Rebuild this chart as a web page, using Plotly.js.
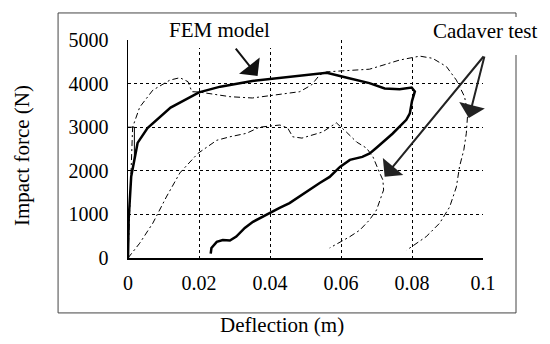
<!DOCTYPE html>
<html><head><meta charset="utf-8">
<script src="https://cdn.plot.ly/plotly-3.0.1.min.js"></script>
<style>html,body{margin:0;padding:0;background:#fff}</style>
</head><body><div id="chart" style="width:550px;height:344px"></div>
<script>
// FEM model: loading then unloading
const femX = [0, 0.0002, 0.0009, 0.0018, 0.0027, 0.0055, 0.0120, 0.0200, 0.0260, 0.0350, 0.0450, 0.0560, 0.0620, 0.0680, 0.0723, 0.0765, 0.0799, 0.0808,
  0.0800, 0.0794, 0.0784, 0.0745, 0.0700, 0.0681, 0.0660, 0.0625, 0.0597, 0.0568, 0.0540, 0.0502, 0.0455, 0.0427, 0.0399, 0.0352, 0.0329, 0.0305, 0.0287, 0.0267, 0.0250, 0.0235, 0.0233];
const femY = [0, 900, 1870, 2250, 2640, 2980, 3450, 3800, 3930, 4060, 4150, 4250, 4130, 4010, 3890, 3870, 3910, 3820,
  3600, 3320, 3170, 2850, 2530, 2400, 2320, 2250, 2090, 1860, 1720, 1510, 1260, 1150, 1030, 830, 690, 490, 400, 410, 370, 230, 100];
// Cadaver test 1 (upper)
const cadAX = [0, 0.0005, 0.0008, 0.0013, 0.0033, 0.0070, 0.0118, 0.0146, 0.0169, 0.0180, 0.0200, 0.0287, 0.0350, 0.0408, 0.0484, 0.0517, 0.0540, 0.0560, 0.0620, 0.0680, 0.0709, 0.0765, 0.0822, 0.0858, 0.0897, 0.0925, 0.0948, 0.0957, 0.0953, 0.0946, 0.0934, 0.0925, 0.0906, 0.0878, 0.0840, 0.0785];
const cadAY = [0, 1000, 2000, 3000, 3460, 3850, 4080, 4135, 4044, 3814, 3807, 3700, 3670, 3740, 3815, 3970, 4200, 4270, 4300, 4330, 4400, 4540, 4630, 4580, 4390, 4080, 3700, 3320, 2860, 2480, 2100, 1630, 1170, 800, 490, 180];
// Cadaver test 2 (lower)
const cadBX = [0, 0.0033, 0.0070, 0.0108, 0.0146, 0.0197, 0.0250, 0.0287, 0.0334, 0.0370, 0.0428, 0.0450, 0.0464, 0.0490, 0.0548, 0.0587, 0.0615, 0.0644, 0.0672, 0.0690, 0.0709, 0.0718, 0.0720, 0.0700, 0.0680, 0.0653, 0.0625, 0.0573, 0.0568];
const cadBY = [0, 340, 800, 1400, 1950, 2400, 2700, 2780, 2860, 3000, 3050, 2980, 2780, 2750, 2890, 3100, 2890, 2660, 2520, 2320, 1950, 1790, 1560, 1100, 870, 640, 490, 260, 230];
// small bracket near the y axis
const brX = [0, 0.0018, 0.0018];
const brY = [3000, 3000, 2250];
const xTicks = [0, 0.02, 0.04, 0.06, 0.08, 0.1];
const xTickText = ['0', '0.02', '0.04', '0.06', '0.08', '0.1'];
const yTicks = [0, 1000, 2000, 3000, 4000, 5000];
const yTickText = ['0', '1000', '2000', '3000', '4000', '5000'];
// arrow endpoints (tips and tails) in data units
const femArrowTip = [0.0365, 4174];
const cadArrowTail = [0.1005, 4656];
const cadArrowTips = [[0.0960, 3210], [0.0723, 1865]];

const F = 'Times New Roman';
const dd = '6px,3px,2px,3px';
const traces = [
  {x: cadAX, y: cadAY, mode: 'lines', line: {color: '#000', width: 1, dash: dd}},
  {x: cadBX, y: cadBY, mode: 'lines', line: {color: '#000', width: 1, dash: dd}},
  {x: brX, y: brY, mode: 'lines', line: {color: '#000', width: 1}},
  {x: femX, y: femY, mode: 'lines', line: {color: '#000', width: 2.5}}
];
const txt = {family: F, size: 21, color: '#000'};
const annotations = [
  {x: femArrowTip[0], y: femArrowTip[1], ax: -23, ay: -29, showarrow: true, arrowhead: 1, arrowsize: 2.2, arrowwidth: 2, arrowcolor: '#111', text: ''},
  ...cadArrowTips.map(t => ({x: t[0], y: t[1], axref: 'x', ayref: 'y', ax: cadArrowTail[0], ay: cadArrowTail[1], showarrow: true, arrowhead: 1, arrowsize: 2.2, arrowwidth: 2, arrowcolor: '#222', text: ''})),
  {xref: 'paper', yref: 'paper', x: 0.259, y: 1.046, xanchor: 'center', yanchor: 'middle', text: 'FEM model', showarrow: false, font: txt},
  {xref: 'paper', yref: 'paper', x: 1.008, y: 1.041, xanchor: 'center', yanchor: 'middle', text: 'Cadaver test', showarrow: false, font: txt},
  {xref: 'paper', yref: 'paper', x: 0.434, y: -0.307, xanchor: 'center', yanchor: 'middle', text: 'Deflection (m)', showarrow: false, font: txt},
  {xref: 'paper', yref: 'paper', x: -0.2986, y: 0.472, xanchor: 'center', yanchor: 'middle', text: 'Impact force (N)', textangle: -90, showarrow: false, font: txt}
];
const shapes = [
  {type: 'rect', xref: 'paper', yref: 'paper', x0: -0.197, x1: 1.093, y0: -0.252, y1: 1.124, line: {color: '#444', width: 1}, layer: 'below'},
  {type: 'rect', xref: 'paper', yref: 'paper', x0: 0.090, x1: 0.527, y0: 0.963, y1: 1.119, line: {width: 0}, fillcolor: '#fff', layer: 'above'},
  {type: 'rect', xref: 'paper', yref: 'paper', x0: 0.780, x1: 1.2, y0: 0.931, y1: 1.106, line: {width: 0}, fillcolor: '#fff', layer: 'above'}
];
const layout = {
  width: 550, height: 344,
  margin: {l: 128, r: 67, t: 40, b: 86},
  paper_bgcolor: '#fff', plot_bgcolor: '#fff',
  showlegend: false,
  font: {family: F, size: 20, color: '#000'},
  xaxis: {range: [0, 0.1], tickvals: xTicks, ticktext: xTickText, showgrid: true, gridcolor: '#000', griddash: 'dot', gridwidth: 1,
    showline: true, linecolor: '#000', linewidth: 1.5, zeroline: false, ticks: '', ticklabelstandoff: 6, tickfont: {family: F, size: 20}},
  yaxis: {range: [0, 5000], tickvals: yTicks, ticktext: yTickText, showgrid: true, gridcolor: '#000', griddash: 'dot', gridwidth: 1,
    showline: true, linecolor: '#000', linewidth: 1.5, zeroline: false, ticks: '', ticklabelstandoff: 14, tickfont: {family: F, size: 20}},
  annotations: annotations,
  shapes: shapes
};
Plotly.newPlot('chart', traces, layout, {staticPlot: true, displayModeBar: false});
</script></body></html>
